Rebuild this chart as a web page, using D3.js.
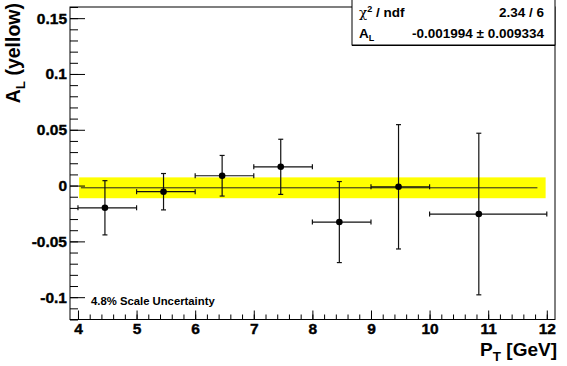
<!DOCTYPE html>
<html><head><meta charset="utf-8">
<script src="https://cdn.jsdelivr.net/npm/d3@7"></script>
<style>body{margin:0;background:#fff}svg{display:block}text{font-family:"Liberation Sans",Arial,sans-serif;font-weight:bold}</style>
</head><body><svg id="c" width="567" height="366"></svg>
<script>
const ptMean = [4.46, 5.46, 6.46, 7.46, 8.46, 9.47, 10.84];
const ptLow  = [4, 5, 6, 7, 8, 9, 10];
const ptHigh = [5, 6, 7, 8, 9, 10, 12];
const AL     = [-0.0199, -0.0055, 0.0088, 0.0168, -0.0327, -0.0011, -0.0255];
const ALerr  = [0.0243, 0.0163, 0.0182, 0.0247, 0.0363, 0.0557, 0.0724];
const fitValue = -0.001994, fitError = 0.009334;
const fitRange = [4.05, 11.84];
const bandRange = [4.02, 11.98];
const chi2 = "2.34", ndf = "6";
const xTicks = [4,5,6,7,8,9,10,11,12];
const yTicks = [-0.1,-0.05,0,0.05,0.1,0.15];
const yTickLabels = ["-0.1","-0.05","0","0.05","0.1","0.15"];

const svg = d3.select("#c");
const L=70, R=555, T=7, B=319.5;
const x = d3.scaleLinear().domain([3.864, 12.14]).range([L, R]);
const y = d3.scaleLinear().domain([-0.12, 0.16]).range([B, T]);

// band
svg.append("rect").attr("x", x(bandRange[0])).attr("width", x(bandRange[1])-x(bandRange[0]))
  .attr("y", y(fitValue+fitError)).attr("height", y(fitValue-fitError)-y(fitValue+fitError))
  .attr("fill", "#ffff00");
// fit line
svg.append("line").attr("x1", x(fitRange[0])).attr("x2", x(fitRange[1]))
  .attr("y1", y(fitValue)).attr("y2", y(fitValue)).attr("stroke","#222").attr("stroke-width",1);

// data
const data = ptMean.map((m,i)=>({m, lo:ptLow[i], hi:ptHigh[i], v:AL[i], e:ALerr[i]}));
const g = svg.append("g").attr("stroke","#111").attr("stroke-width",1.2);
data.forEach(d=>{
  const px=x(d.m), py=y(d.v);
  g.append("line").attr("x1",x(d.lo)).attr("x2",x(d.hi)).attr("y1",py).attr("y2",py);
  g.append("line").attr("x1",px).attr("x2",px).attr("y1",y(d.v+d.e)).attr("y2",y(d.v-d.e));
  [d.lo,d.hi].forEach(xx=>g.append("line").attr("x1",x(xx)).attr("x2",x(xx)).attr("y1",py-2.5).attr("y2",py+2.5));
  [d.v+d.e,d.v-d.e].forEach(yy=>g.append("line").attr("x1",px-2.5).attr("x2",px+2.5).attr("y1",y(yy)).attr("y2",y(yy)));
  svg.append("circle").attr("cx",px).attr("cy",py).attr("r",3.3).attr("fill","#000");
});

// frame
svg.append("rect").attr("x",L).attr("y",T).attr("width",R-L).attr("height",B-T)
  .attr("fill","none").attr("stroke","#000").attr("stroke-width",1);

// axes
const yMinor = d3.range(-0.12, 0.1601, 0.01).map(v=>+v.toFixed(3));
svg.append("g").attr("transform",`translate(${L},0)`)
  .call(d3.axisLeft(y).tickValues(yMinor).tickSize(-8).tickFormat(""))
  .call(a=>a.select(".domain").remove());
const yAx = svg.append("g").attr("transform",`translate(${L},0)`)
  .call(d3.axisLeft(y).tickValues(yTicks).tickSize(-15).tickPadding(3)
    .tickFormat((d,i)=>yTickLabels[i]));
yAx.select(".domain").remove();
yAx.selectAll("text").attr("font-size",15.5).attr("font-family","Liberation Sans, Arial, sans-serif").attr("font-weight","bold").attr("fill","#000").attr("stroke","#000").attr("stroke-width",0.4);

const xMinor = d3.range(3.8, 12.15, 0.2).map(v=>+v.toFixed(2)).filter(v=>v>=3.87&&v<=12.14);
svg.append("g").attr("transform",`translate(0,${B})`)
  .call(d3.axisBottom(x).tickValues(xMinor).tickSize(-5).tickFormat(""))
  .call(a=>a.select(".domain").remove());
const xAx = svg.append("g").attr("transform",`translate(0,${B})`)
  .call(d3.axisBottom(x).tickValues(xTicks).tickSize(-9).tickPadding(3).tickFormat(d3.format("d")));
xAx.select(".domain").remove();
xAx.selectAll("text").attr("font-size",15.5).attr("font-family","Liberation Sans, Arial, sans-serif").attr("font-weight","bold").attr("fill","#000").attr("stroke","#000").attr("stroke-width",0.4);

// axis titles
const xt = svg.append("text").attr("x",557).attr("y",355.5).attr("text-anchor","end").attr("font-size",19);
xt.append("tspan").text("P");
xt.append("tspan").attr("font-size",13.5).attr("dy",5).text("T");
xt.append("tspan").attr("dy",-5).text(" [GeV]");

const yt = svg.append("text").attr("transform","translate(20,3) rotate(-90)").attr("text-anchor","end").attr("font-size",19.5);
yt.append("tspan").text("A");
yt.append("tspan").attr("font-size",13.5).attr("dy",5).text("L");
yt.append("tspan").attr("dy",-5).text(" (yellow)");

// scale uncertainty
svg.append("text").attr("x",91).attr("y",305).attr("font-size",11.3).text("4.8% Scale Uncertainty");

// stats box
svg.append("rect").attr("x",352).attr("y",-1).attr("width",203).attr("height",46)
  .attr("fill","#fff").attr("stroke","#000").attr("stroke-width",1);
svg.append("line").attr("x1",352).attr("x2",555).attr("y1",45.5).attr("y2",45.5).attr("stroke","#000").attr("stroke-width",1);
const s1 = svg.append("text").attr("x",359).attr("y",17).attr("font-size",13.5);
s1.append("tspan").attr("font-weight","normal").attr("font-family","DejaVu Serif, serif").text("χ");
s1.append("tspan").attr("font-size",9).attr("dy",-5).text("2");
s1.append("tspan").attr("dy",5).text(" / ndf");
svg.append("text").attr("x",544).attr("y",17).attr("font-size",13.5).attr("text-anchor","end").text(`${chi2} / ${ndf}`);
const s2 = svg.append("text").attr("x",359).attr("y",38).attr("font-size",13.5);
s2.append("tspan").text("A");
s2.append("tspan").attr("font-size",9).attr("dy",3).text("L");
svg.append("text").attr("x",544).attr("y",38).attr("font-size",13.5).attr("text-anchor","end")
  .text(`${fitValue} ± ${fitError}`);
</script></body></html>
